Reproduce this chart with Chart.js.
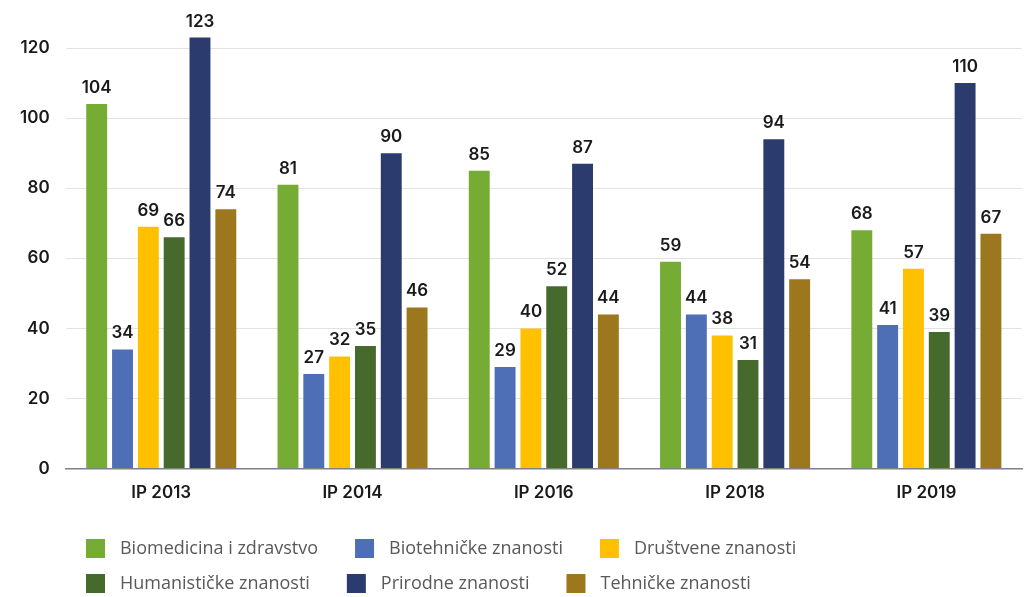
<!DOCTYPE html>
<html>
<head>
<meta charset="utf-8">
<script src="https://cdn.jsdelivr.net/npm/chart.js@4/dist/chart.umd.min.js"></script>
<style>
html,body{margin:0;padding:0;background:#fff;overflow:hidden;}
#wrap{width:1028px;height:597px;}
canvas{display:block;}
</style>
</head>
<body>
<div id="wrap"><canvas id="c" width="1028" height="597"></canvas></div>
<script>
const categories = ['IP 2013', 'IP 2014', 'IP 2016', 'IP 2018', 'IP 2019'];
const seriesNames = ['Biomedicina i zdravstvo', 'Biotehničke znanosti', 'Društvene znanosti', 'Humanističke znanosti', 'Prirodne znanosti', 'Tehničke znanosti'];
const biomedicina = [104, 81, 85, 59, 68];
const biotehnicke = [34, 27, 29, 44, 41];
const drustvene = [69, 32, 40, 38, 57];
const humanisticke = [66, 35, 52, 31, 39];
const prirodne = [123, 90, 87, 94, 110];
const tehnicke = [74, 46, 44, 54, 67];
const yTicks = [0, 20, 40, 60, 80, 100, 120];

const seriesValues = [biomedicina, biotehnicke, drustvene, humanisticke, prirodne, tehnicke];
const colors = ['#76AB34', '#4E6EB5', '#FFC000', '#466A2C', '#2B3B6E', '#9C771E'];

const FONT = "'Inter', 'DejaVu Sans', sans-serif";
const LEGEND_FONT = "'Open Sans', 'DejaVu Sans', sans-serif";

const valueLabels = {
  id: 'valueLabels',
  afterDatasetsDraw(chart) {
    const ctx = chart.ctx;
    ctx.save();
    ctx.font = '600 17px ' + FONT;
    ctx.fillStyle = '#1a1a1a';
    ctx.textAlign = 'center';
    ctx.textBaseline = 'alphabetic';
    chart.data.datasets.forEach((ds, i) => {
      const meta = chart.getDatasetMeta(i);
      meta.data.forEach((bar, j) => {
        ctx.fillText(String(ds.data[j]), bar.x, bar.y - 11);
      });
    });
    ctx.restore();
  }
};

const legendTweak = {
  id: 'legendTweak',
  afterLayout(chart) {
    const lg = chart.legend;
    if (lg) {
      lg.left = 70;
      lg.right = 900;
      lg.top = 523;
      lg.bottom = 610;
    }
  }
};

new Chart(document.getElementById('c'), {
  type: 'bar',
  data: {
    labels: categories,
    datasets: seriesNames.map((name, i) => ({
      label: name,
      data: seriesValues[i],
      backgroundColor: colors[i],
      borderWidth: 0,
      categoryPercentage: 0.81,
      barPercentage: 0.81
    }))
  },
  options: {
    responsive: false,
    animation: false,
    layout: { padding: { left: 4, right: 6, top: 13, bottom: 0 } },
    plugins: {
      legend: {
        position: 'bottom',
        align: 'start',
        labels: {
          boxWidth: 19,
          boxHeight: 19,
          padding: 16,
          color: '#595959',
          font: { family: LEGEND_FONT, size: 18, weight: '400' },
          generateLabels(chart) {
            return chart.data.datasets.map((ds, i) => ({
              text: '\u2004' + ds.label + '\u2003\u2006',
              fillStyle: ds.backgroundColor,
              strokeStyle: ds.backgroundColor,
              lineWidth: 0,
              hidden: false,
              datasetIndex: i,
              fontColor: '#595959'
            }));
          }
        }
      },
      tooltip: { enabled: false }
    },
    scales: {
      x: {
        grid: { display: false, drawTicks: false },
        border: { display: true, color: '#808080', width: 1.5 },
        ticks: { color: '#1a1a1a', padding: 14, font: { family: FONT, size: 17, weight: '600' } }
      },
      y: {
        min: 0,
        max: 130,
        afterBuildTicks(axis) {
          axis.ticks = yTicks.map(v => ({ value: v }));
        },
        afterFit(axis) {
          axis.paddingTop = 0;
        },
        grid: { color: '#e2e2e2', lineWidth: 1, drawTicks: false },
        border: { display: false },
        ticks: { color: '#1a1a1a', padding: 16, font: { family: FONT, size: 17, weight: '600' } }
      }
    }
  },
  plugins: [valueLabels, legendTweak]
});
</script>
</body>
</html>
